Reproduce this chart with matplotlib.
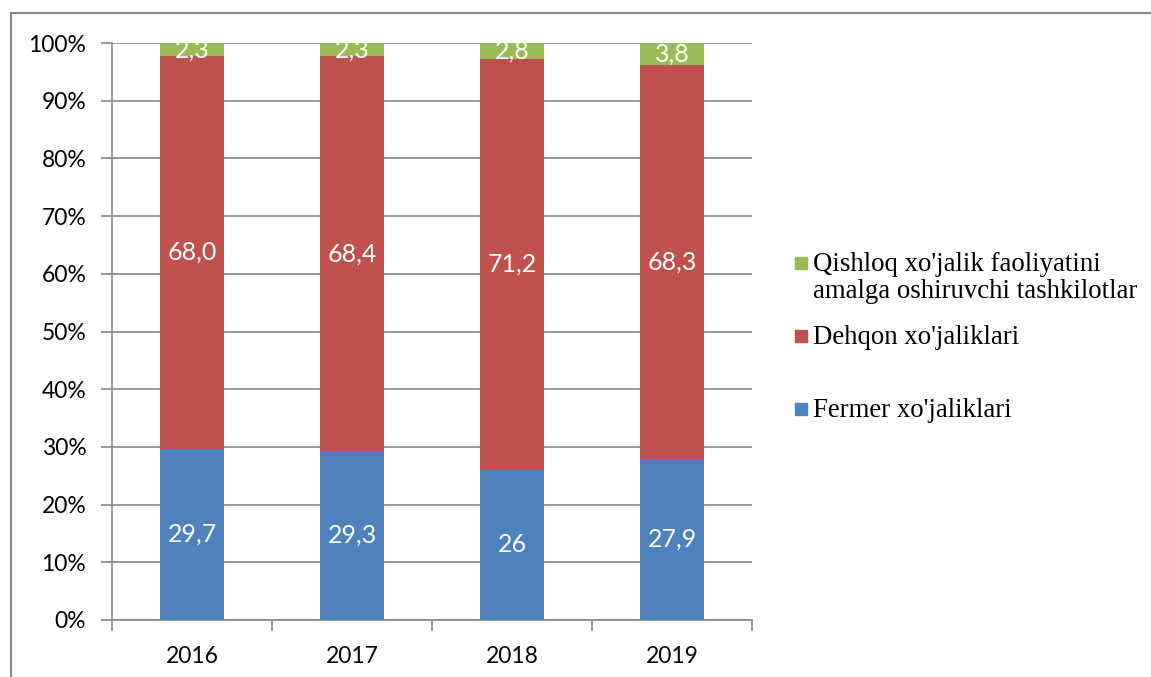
import matplotlib
matplotlib.use("Agg")
import matplotlib.pyplot as plt
from matplotlib.lines import Line2D
from matplotlib.patches import Rectangle
import numpy as np

# Share of agricultural output by producer type, %
years = ["2016", "2017", "2018", "2019"]
fermer = [29.7, 29.3, 26, 27.9]
dehqon = [68.0, 68.4, 71.2, 68.3]
tashkilot = [2.3, 2.3, 2.8, 3.8]

series_names = [
    ["Qishloq xo'jalik faoliyatini", "amalga oshiruvchi tashkilotlar"],
    ["Dehqon xo'jaliklari"],
    ["Fermer xo'jaliklari"],
]
c_blue = "#4F81BD"
c_red = "#C0504D"
c_green = "#9BBB59"
c_grid = "#868686"

W, H = 1151, 677
fig = plt.figure(figsize=(W / 100, H / 100), dpi=100)
ax = fig.add_axes([112 / W, 1 - 620 / H, (752 - 112) / W, (620 - 43) / H])

x = np.arange(len(years))
width = 0.4
tick_font = "Lato"

def fmt(v):
    return str(v).replace(".", ",")

bottom = np.zeros(len(years))
for vals, col in [(fermer, c_blue), (dehqon, c_red), (tashkilot, c_green)]:
    vals_arr = np.array(vals, dtype=float)
    ax.bar(x, vals_arr, width, bottom=bottom, color=col, zorder=3)
    for xi, b, v in zip(x, bottom, vals):
        ax.text(xi, b + v / 2, fmt(v), ha="center", va="center",
                color="white", fontsize=18, family=tick_font, zorder=4)
    bottom += vals_arr

ax.set_xlim(-0.5, len(years) - 0.5)
ax.set_ylim(0, 100)
ax.set_yticks(np.arange(0, 101, 10))
ax.set_yticklabels([f"{v}%" for v in range(0, 101, 10)], family=tick_font, fontsize=16.5)
ax.yaxis.grid(True, color=c_grid, linewidth=1.2, zorder=0)
ax.tick_params(axis="y", length=8, width=1.2, color=c_grid, pad=10.5)

ax.set_xticks(np.arange(-0.5, len(years), 1.0))
ax.set_xticklabels([])
ax.set_xticks(x, minor=True)
ax.set_xticklabels(years, minor=True, family=tick_font, fontsize=16.5)
ax.tick_params(axis="x", which="major", length=8, width=1.2, color=c_grid)
ax.tick_params(axis="x", which="minor", length=0, pad=19)

for s in ["top", "right"]:
    ax.spines[s].set_visible(False)
for s in ["left", "bottom"]:
    ax.spines[s].set_color(c_grid)
    ax.spines[s].set_linewidth(1.2)

# Legend drawn as swatches with serif labels (baseline y of first line in px)
legend_items = [
    (series_names[0], c_green, 271),
    (series_names[1], c_red, 344),
    (series_names[2], c_blue, 417),
]
for lines, col, base in legend_items:
    yc = base - 8
    fig.patches.append(Rectangle((795 / W, 1 - (yc + 6) / H), 12 / W, 12 / H,
                                 transform=fig.transFigure, color=col))
    for i, line in enumerate(lines):
        fig.text(813 / W, 1 - (base + 27 * i) / H, line, ha="left", va="baseline",
                 family="Liberation Serif", fontsize=19.3)

# Outer frame (top and left edges)
fig.add_artist(Line2D([11 / W, 1], [1 - 13 / H, 1 - 13 / H], transform=fig.transFigure,
                      color=c_grid, linewidth=1.5))
fig.add_artist(Line2D([11 / W, 11 / W], [0, 1 - 13 / H], transform=fig.transFigure,
                      color=c_grid, linewidth=1.5))

fig.savefig("out.png", dpi=100)
